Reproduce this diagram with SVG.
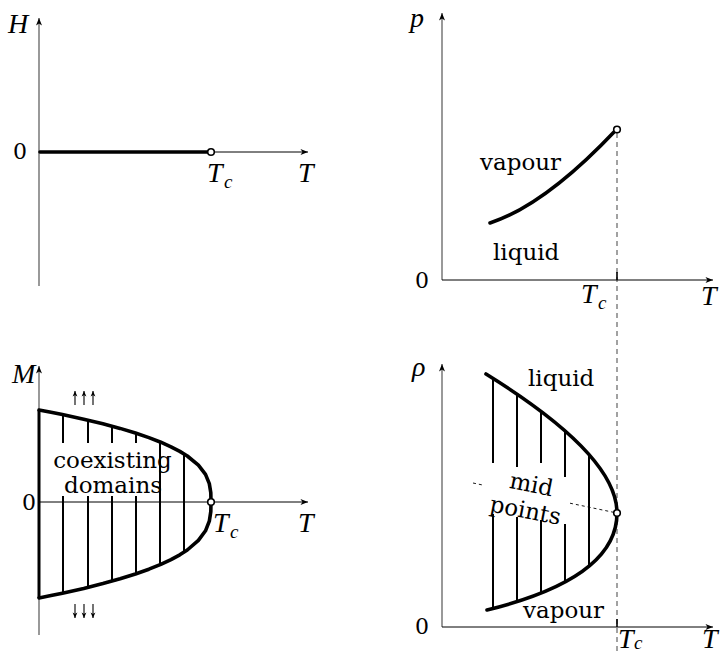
<svg xmlns="http://www.w3.org/2000/svg" width="721" height="654" viewBox="0 0 721 654">
<style>
.txt{font-family:"DejaVu Serif","Liberation Serif",serif;font-size:23px;fill:#000}
.num{font-family:"DejaVu Serif","Liberation Serif",serif;font-size:22px;fill:#000}
.mi{font-family:"Liberation Serif","DejaVu Serif",serif;font-style:italic;font-size:28px;fill:#000}
.sub{font-family:"Liberation Serif","DejaVu Serif",serif;font-style:italic;font-size:19px;fill:#000}
.vaxL{stroke:#808080;stroke-width:1.6;fill:none}
.vaxR{stroke:#555;stroke-width:1.2;fill:none}
.hax{stroke:#000;stroke-width:1;fill:none}
.thick{stroke:#000;stroke-width:3.6;fill:none;stroke-linecap:round;stroke-linejoin:round}
.hatch{stroke:#000;stroke-width:2;fill:none}
.dash{stroke:#555;stroke-width:1.1;stroke-dasharray:5 4;fill:none}
.dot{stroke:#000;stroke-width:0.9;stroke-dasharray:3 3;fill:none}
.crit{fill:#fff;stroke:#000;stroke-width:1.6}
.small{stroke:#000;stroke-width:1.1;fill:none}
</style>
<defs>
<marker id="ah" viewBox="-8 -4 9 8" refX="0" refY="0" markerWidth="9" markerHeight="8" markerUnits="userSpaceOnUse" orient="auto">
<path d="M0,0 L-7.5,-3 L-5.5,0 L-7.5,3 Z" fill="#000"/>
</marker>
<marker id="ahs" viewBox="-6 -3 7 6" refX="0" refY="0" markerWidth="7" markerHeight="6" markerUnits="userSpaceOnUse" orient="auto">
<path d="M0,0 L-5.5,-2.4 L-4,0 L-5.5,2.4 Z" fill="#000"/>
</marker>
</defs>

<g id="panel-H">
<line class="vaxL" x1="39" y1="286" x2="39" y2="18" marker-end="url(#ah)"/>
<line class="hax" x1="39" y1="152" x2="308" y2="152" marker-end="url(#ah)"/>
<line class="thick" x1="40" y1="152" x2="208" y2="152" stroke-linecap="butt"/>
<circle class="crit" cx="211" cy="152" r="3.3"/>
<text class="mi" x="8" y="33">H</text>
<text class="num" x="13" y="159">0</text>
<text class="mi" x="207" y="182">T</text><text class="sub" x="224" y="188">c</text>
<text class="mi" x="298" y="182">T</text>
</g>

<g id="panel-p">
<line class="dash" x1="617" y1="133" x2="617" y2="654"/>
<line class="vaxR" x1="442" y1="280" x2="442" y2="13" marker-end="url(#ah)"/>
<line class="hax" x1="442" y1="280" x2="713" y2="280" marker-end="url(#ah)"/>
<line x1="617" y1="272" x2="617" y2="280" stroke="#000" stroke-width="1.6"/>
<path class="thick" d="M490 223 Q545 205 615 131"/>
<circle class="crit" cx="617" cy="129.5" r="3.3"/>
<text class="mi" x="410" y="27">p</text>
<text class="txt" x="480" y="170">vapour</text>
<text class="txt" x="493" y="260">liquid</text>
<text class="num" x="415" y="288">0</text>
<text class="mi" x="581" y="303">T</text><text class="sub" x="598" y="309">c</text>
<text class="mi" x="701" y="305">T</text>
</g>

<g id="panel-M">
<line class="vaxL" x1="39" y1="635" x2="39" y2="366" marker-end="url(#ah)"/>
<line class="hax" x1="39" y1="502" x2="308" y2="502" marker-end="url(#ah)"/>
<line x1="39" y1="410" x2="39" y2="598" stroke="#000" stroke-width="3"/>
<g class="hatch">
<line x1="63" y1="414.7" x2="63" y2="443"/><line x1="63" y1="496" x2="63" y2="593.1"/>
<line x1="88" y1="420.2" x2="88" y2="443"/><line x1="88" y1="496" x2="88" y2="587.3"/>
<line x1="112" y1="426.2" x2="112" y2="443"/><line x1="112" y1="496" x2="112" y2="581.1"/>
<line x1="136" y1="433.2" x2="136" y2="443"/><line x1="136" y1="496" x2="136" y2="573.8"/>
<line x1="160" y1="441.9" x2="160" y2="564.7"/>
<line x1="184" y1="454" x2="184" y2="552.1"/>
</g>
<polyline class="thick" points="39,410 51,412.3 62.4,414.6 83.7,419.2 102.9,423.8 120.1,428.4 135.4,433 148.9,437.6 160.8,442.2 171,446.8 179.8,451.4 187.3,456 198.4,465.2 205.5,474.4 209.3,483.6 210.8,492.8 211,502 210.8,511.6 209.3,521.2 205.5,530.8 198.4,540.4 187.3,550 179.8,554.8 171,559.6 160.8,564.4 148.9,569.2 135.4,574 120.1,578.8 102.9,583.6 83.7,588.4 62.4,593.2 51,595.6 39,598"/>
<circle class="crit" cx="211" cy="502" r="3.3"/>
<g class="small">
<line x1="75" y1="405" x2="75" y2="391" marker-end="url(#ahs)"/>
<line x1="84" y1="405" x2="84" y2="391" marker-end="url(#ahs)"/>
<line x1="93" y1="405" x2="93" y2="391" marker-end="url(#ahs)"/>
<line x1="75" y1="604" x2="75" y2="618" marker-end="url(#ahs)"/>
<line x1="84" y1="604" x2="84" y2="618" marker-end="url(#ahs)"/>
<line x1="93" y1="604" x2="93" y2="618" marker-end="url(#ahs)"/>
</g>
<text class="mi" x="12" y="383">M</text>
<text class="num" x="22" y="510">0</text>
<text class="txt" x="112.5" y="468" text-anchor="middle">coexisting</text>
<text class="txt" x="113" y="493" text-anchor="middle">domains</text>
<text class="mi" x="213" y="532">T</text><text class="sub" x="230" y="538">c</text>
<text class="mi" x="298" y="532">T</text>
</g>

<g id="panel-rho">
<line class="vaxR" x1="442" y1="627" x2="442" y2="364" marker-end="url(#ah)"/>
<line class="hax" x1="442" y1="627" x2="713" y2="627" marker-end="url(#ah)"/>
<line x1="617" y1="619" x2="617" y2="627" stroke="#000" stroke-width="1.6"/>
<g class="hatch">
<line x1="493" y1="378.4" x2="493" y2="463"/><line x1="493" y1="514" x2="493" y2="608.5"/>
<line x1="517" y1="394" x2="517" y2="467"/><line x1="517" y1="517" x2="517" y2="601.7"/>
<line x1="541" y1="410.9" x2="541" y2="463"/><line x1="541" y1="520" x2="541" y2="593"/>
<line x1="565" y1="430.8" x2="565" y2="477"/><line x1="565" y1="524" x2="565" y2="582"/>
<line x1="589" y1="454.6" x2="589" y2="566"/>
</g>
<path class="thick" d="M486 374 Q617 455 617 513 Q617 578 487 610"/>
<line class="dot" x1="473" y1="483" x2="484" y2="485.3"/>
<line class="dot" x1="570" y1="503.2" x2="614" y2="512.4"/>
<circle class="crit" cx="617" cy="513" r="3.3"/>
<text class="mi" x="412" y="376">ρ</text>
<text class="txt" x="528" y="386">liquid</text>
<text class="txt" x="523" y="618">vapour</text>
<text class="txt" x="530" y="492" text-anchor="middle" transform="rotate(11 530 492)">mid</text>
<text class="txt" x="524" y="518" text-anchor="middle" transform="rotate(11 524 518)">points</text>
<text class="num" x="415" y="634">0</text>
<text class="mi" x="618" y="648" font-size="25">T</text><text class="sub" x="634" y="649" font-size="17">c</text>
<text class="mi" x="702" y="648" font-size="25">T</text>
</g>
</svg>
